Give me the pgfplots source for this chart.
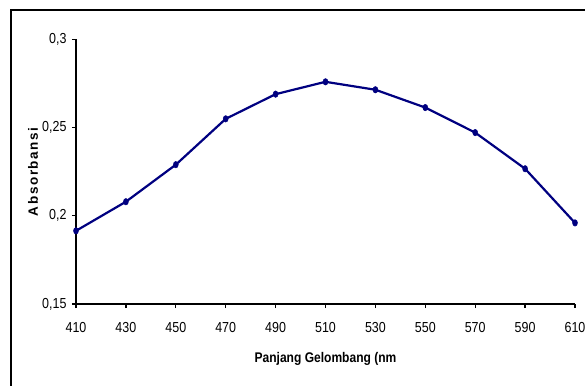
\documentclass[border=0pt]{standalone}
\usepackage{fontspec}
\setmainfont{Liberation Sans}
\usepackage{pgfplots}
\pgfplotsset{compat=1.18}
\definecolor{navy}{RGB}{0,0,128}
\begin{document}
\begin{tikzpicture}[x=1pt,y=1pt]
\useasboundingbox (0,0) rectangle (585,385);
\clip (0,0) rectangle (585,385);
\draw[line width=1.6pt] (11,-20) -- (11,375) -- (600,375);
\begin{axis}[
  at={(76pt,81pt)}, anchor=south west, scale only axis,
  width=499pt, height=264.5pt,
  xmin=410, xmax=610, ymin=0.15, ymax=0.3,
  axis lines*=left, axis line style={-, line width=1.7pt},
  xtick={410,430,...,610},
  ytick={0.15,0.2,0.25,0.3},
  yticklabels={{0,15},{0,2},{0,25},{0,3}},
  tick align=outside, major tick length=4pt,
  tick style={black, line width=1.3pt},
  ticklabel style={font=\fontsize{14.5}{16}\selectfont\addfontfeature{FakeStretch=0.86}},
  xticklabel style={yshift=-11pt},
  yticklabel style={xshift=-2pt},
  /pgf/number format/assume math mode=true,
  /pgf/number format/1000 sep={},
  xlabel={Panjang Gelombang (nm},
  ylabel={\addfontfeature{LetterSpace=12}Absorbansi},
  xlabel style={font=\fontsize{14}{16}\selectfont\bfseries\addfontfeature{FakeStretch=0.86}},
  ylabel style={font=\fontsize{13.5}{16}\selectfont\bfseries},
  xlabel style={at={(axis description cs:0.5,-0.208)}, anchor=center},
  ylabel style={at={(axis description cs:-0.086,0.5)}, anchor=center},
  clip=false,
]
\addplot[navy, line width=2.2pt, mark=*, mark size=2.5pt,
  mark options={yscale=1.3, fill=navy, draw=navy, line width=0.5pt}]
  coordinates {
  (410,0.1915) (430,0.208) (450,0.229) (470,0.255) (490,0.269)
  (510,0.276) (530,0.2715) (550,0.2614) (570,0.2472) (590,0.2267) (610,0.196)
  };
\end{axis}
\end{tikzpicture}
\end{document}
